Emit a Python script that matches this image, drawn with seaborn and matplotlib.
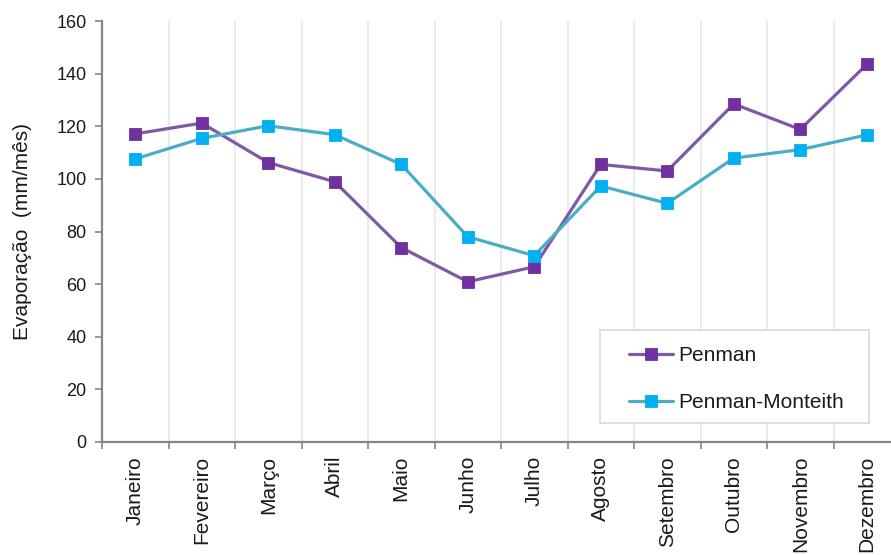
import matplotlib
matplotlib.use("Agg")
import matplotlib.pyplot as plt
from matplotlib.patches import Rectangle
import seaborn as sns
import pandas as pd

# Monthly evaporation (mm/month) estimated by two methods
meses = ["Janeiro", "Fevereiro", "Março", "Abril", "Maio", "Junho",
         "Julho", "Agosto", "Setembro", "Outubro", "Novembro", "Dezembro"]
penman = [117.1, 121.2, 106.2, 98.9, 73.9, 60.9, 66.6, 105.5, 103.0, 128.5, 118.8, 143.5]
penman_monteith = [107.6, 115.4, 120.2, 116.8, 105.5, 78.0, 70.8, 97.3, 90.7, 107.9, 111.1, 116.7]
y_ticks = [0, 20, 40, 60, 80, 100, 120, 140, 160]

sns.set_theme(style="white")
plt.rcParams["font.family"] = ["Liberation Sans", "DejaVu Sans"]

W, H = 891, 555
fig = plt.figure(figsize=(W / 100, H / 100), dpi=100)
# plot area (pixels): left 102, right 900 (runs past the canvas), top 21, bottom 442
ax = fig.add_axes([102 / W, (H - 442) / H, 798 / W, 421 / H])

series = [
    ("Penman", penman, "#7E5AA6", "#7030A0"),
    ("Penman-Monteith", penman_monteith, "#4BACC6", "#00B0F0"),
]
for nome, valores, cor_linha, cor_marcador in series:
    df = pd.DataFrame({"Mês": meses, "Evaporação": valores})
    sns.lineplot(data=df, x="Mês", y="Evaporação", ax=ax, sort=False,
                 color=cor_linha, linewidth=2.3, marker="s", markersize=9,
                 markerfacecolor=cor_marcador, markeredgecolor=cor_marcador,
                 markeredgewidth=0.6, label=nome, zorder=3)

ax.set_xlim(-0.5, len(meses) - 0.5)
ax.set_ylim(0, 160)
ax.set_yticks(y_ticks)
ax.set_yticklabels([str(v) for v in y_ticks], fontsize=13, color="#1a1a1a")

# category labels at centres, tick marks and gridlines at the boundaries
ax.set_xticks(range(len(meses)))
ax.set_xticklabels(meses, rotation=90, fontsize=15, color="#1a1a1a", va="top", ha="center")
ax.set_xticks([i - 0.5 for i in range(len(meses) + 1)], minor=True)
ax.tick_params(axis="x", which="major", length=0, pad=10)
ax.tick_params(axis="x", which="minor", length=5, width=1.2, color="#868686", direction="out", bottom=True)
ax.tick_params(axis="y", which="major", length=5, width=1.2, color="#868686", direction="out", left=True, pad=6)
ax.grid(False)
ax.grid(True, axis="x", which="minor", color="#E6E6E6", linewidth=1.1)

for s in ["top", "right"]:
    ax.spines[s].set_visible(False)
for s in ["left", "bottom"]:
    ax.spines[s].set_color("#868686")
    ax.spines[s].set_linewidth(1.6)

ax.set_xlabel("")
ax.set_ylabel("Evaporação  (mm/mês)", fontsize=15, color="#1a1a1a")
ax.yaxis.set_label_coords(-0.1, 0.5)
ax.yaxis.label.set_verticalalignment("center")

# legend entries (unframed) plus a separate light-grey box around them
def fx(px):
    return px / W

def fy(py):
    return (H - py) / H

caixa = Rectangle((fx(600), fy(423)), fx(869) - fx(600), fy(330) - fy(423),
                  transform=fig.transFigure, facecolor="white",
                  edgecolor="#D9D9D9", linewidth=1.2, zorder=4, clip_on=False)
ax.add_patch(caixa)

leg = ax.legend(loc="upper left", bbox_to_anchor=(fx(629), fy(346)),
                bbox_transform=fig.transFigure, borderaxespad=0, borderpad=0,
                fontsize=15, frameon=False, handlelength=2.1,
                labelspacing=1.35, handletextpad=0.25)
for t in leg.get_texts():
    t.set_color("#1a1a1a")
leg.set_zorder(6)

fig.savefig("out.png", dpi=100)
